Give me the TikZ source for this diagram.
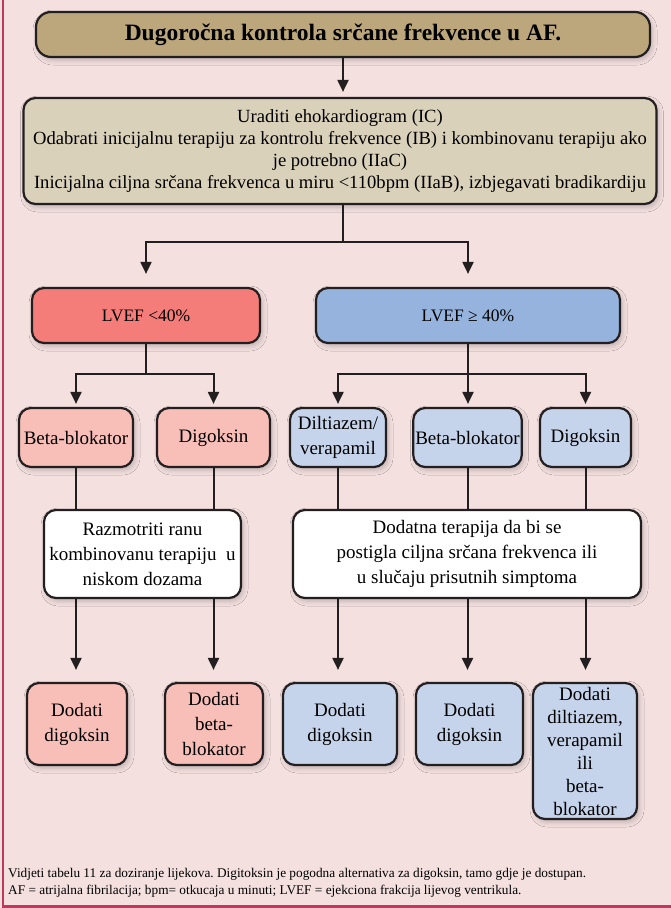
\documentclass[tikz,border=0pt]{standalone}
\usepackage{fontspec}
\setmainfont{Liberation Serif}
\usetikzlibrary{arrows.meta,shadows.blur,backgrounds}
\frenchspacing

\definecolor{pagebg}{HTML}{F3E0DF}
\definecolor{frameline}{HTML}{C2385C}
\definecolor{titlefill}{HTML}{BBA77B}
\definecolor{infofill}{HTML}{DAD1BB}
\definecolor{redfill}{HTML}{F47D7A}
\definecolor{bluefill}{HTML}{95B3DD}
\definecolor{pinkfill}{HTML}{F8BEB8}
\definecolor{lightblue}{HTML}{C6D4EB}
\definecolor{edgecol}{HTML}{231F20}

\tikzset{
  box/.style={draw=edgecol, line width=2.2pt, rounded corners=12pt,
    align=center, inner sep=2pt, text=black,
    font=\fontsize{19}{25}\selectfont,
    blur shadow={shadow xshift=2pt, shadow yshift=-3pt,
      shadow blur radius=5pt, shadow opacity=22}},
  conn/.style={draw=edgecol, line width=2pt},
  arr/.style={conn, -{Triangle[width=11pt,length=12pt]}},
}

\begin{document}
\begin{tikzpicture}[x=1pt,y=-1pt]
\useasboundingbox (0,0) rectangle (671,908);

% header boxes
\node[box, fill=titlefill, rounded corners=15pt, minimum width=614pt, minimum height=45pt,
  font=\bfseries\fontsize{23.5}{26}\selectfont] (title) at (343,34.5)
  {Dugoročna kontrola srčane frekvence u AF.};
\node[box, fill=infofill, minimum width=633pt, minimum height=106pt,
  font=\fontsize{18.6}{22}\selectfont] (info) at (340,151)
  {Uraditi ehokardiogram (IC)\\
   Odabrati inicijalnu terapiju za kontrolu frekvence (IB) i kombinovanu terapiju ako\\
   je potrebno (IIaC)\\
   Inicijalna ciljna srčana frekvenca u miru <110bpm (IIaB), izbjegavati bradikardiju};

% LVEF split
\node[box, fill=redfill, minimum width=228pt, minimum height=55pt,
  font=\fontsize{17.5}{22}\selectfont] (lvl) at (146,315.5) {LVEF <40\%};
\node[box, fill=bluefill, minimum width=304pt, minimum height=55pt,
  font=\fontsize{17.5}{22}\selectfont] (lvh) at (468,315.5) {LVEF ≥ 40\%};

% first-line drugs
\node[box, fill=pinkfill, minimum width=114pt, minimum height=59pt] (bb1) at (76,437.5) {Beta-blokator};
\node[box, fill=pinkfill, minimum width=113pt, minimum height=59pt] (dg1) at (213.5,437.5) {Digoksin};
\node[box, fill=lightblue, minimum width=96pt, minimum height=59pt] (dv) at (338,437.5) {Diltiazem/\\verapamil};
\node[box, fill=lightblue, minimum width=107pt, minimum height=59pt] (bb2) at (467.5,437.5) {Beta-blokator};
\node[box, fill=lightblue, minimum width=91pt, minimum height=59pt] (dg2) at (585.5,437.5) {Digoksin};

% intermediate advice
\node[box, fill=white, minimum width=197pt, minimum height=88pt] (razm) at (142.5,554)
  {Razmotriti ranu\\kombinovanu terapiju\ \ u\\niskom dozama};
\node[box, fill=white, minimum width=348pt, minimum height=88pt] (dod) at (467,554)
  {Dodatna terapija da bi se\\postigla ciljna srčana frekvenca ili\\u slučaju prisutnih simptoma};

% add-on therapy
\node[box, fill=pinkfill, minimum width=100pt, minimum height=82pt] (a1) at (77,724) {Dodati\\digoksin};
\node[box, fill=pinkfill, minimum width=98pt, minimum height=82pt] (a2) at (214,724) {Dodati\\beta-\\blokator};
\node[box, fill=lightblue, minimum width=114pt, minimum height=82pt] (a3) at (340,724) {Dodati\\digoksin};
\node[box, fill=lightblue, minimum width=107pt, minimum height=82pt] (a4) at (469.5,724) {Dodati\\digoksin};
\node[box, fill=lightblue, minimum width=104pt, minimum height=136pt,
  font=\fontsize{19}{23}\selectfont] (a5) at (585,751)
  {Dodati\\diltiazem,\\verapamil\\ili\\beta-\\blokator};

% footnote
\node[anchor=north west, align=left, inner sep=0pt,
  font=\fontsize{13.3}{17}\selectfont] (note) at (8,868)
  {Vidjeti tabelu 11 za doziranje lijekova. Digitoksin je pogodna alternativa za digoksin, tamo gdje je dostupan.\\
   AF = atrijalna fibrilacija; bpm= otkucaja u minuti; LVEF = ejekciona frakcija lijevog ventrikula.};

\coordinate (split) at (343,242);

\begin{scope}[on background layer]
  \fill[pagebg] (0,0) rectangle (671,908);
  \draw[frameline, line width=2.5pt] (3,0) -- (3,906.5) -- (671,906.5);

  \draw[arr, shorten >=5pt] (title.south) -- (title.south |- info.north);
  \draw[conn] (title.south |- info.south) -- (split);
  \draw[arr, shorten >=13pt] (split) -| (lvl.north);
  \draw[arr, shorten >=13pt] (split) -| (lvh.north);

  \draw[arr, shorten >=3pt] (lvl.south) -- ++(0,30) -| (bb1.north);
  \draw[arr, shorten >=3pt] (lvl.south) -- ++(0,30) -| (dg1.north);
  \draw[arr, shorten >=3pt] (lvh.south) -- ++(0,30) -| (dv.north);
  \draw[arr, shorten >=3pt] (lvh.south) -- (lvh.south |- bb2.north);
  \draw[arr, shorten >=3pt] (lvh.south) -- ++(0,30) -| (dg2.north);

  \draw[arr, shorten >=12pt] (bb1.south) -- (bb1.south |- a1.north);
  \draw[arr, shorten >=12pt] (dg1.south) -- (dg1.south |- a2.north);
  \draw[arr, shorten >=12pt] (dv.south) -- (dv.south |- a3.north);
  \draw[arr, shorten >=12pt] (bb2.south) -- (bb2.south |- a4.north);
  \draw[arr, shorten >=12pt] (dg2.south) -- (dg2.south |- a5.north);
\end{scope}
\end{tikzpicture}
\end{document}
